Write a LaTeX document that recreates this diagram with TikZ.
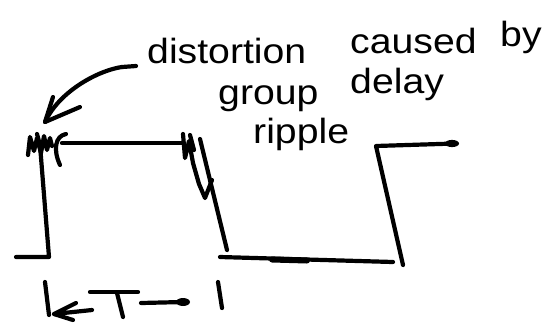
\documentclass[tikz,border=0pt]{standalone}
\usepackage{fontspec}
\setmainfont{Liberation Sans}
\begin{document}
\begin{tikzpicture}[x=1pt,y=-1pt,
  pen/.style={line width=4.2pt,line cap=round,line join=round},
  heavy/.style={line width=6pt,line cap=round},
  word/.style={anchor=base west,inner sep=0pt,font=\fontsize{35}{40}\selectfont,xscale=1.12}]
\useasboundingbox (0,0) rectangle (553,322);
% first pulse
\draw[pen] (16,257) -- (49,257) -- (40,145) -- (37,134);
\draw[pen] (62,143) -- (183,143);
\draw[pen] (200,139) -- (227,250);
% left ripple
\draw[pen] (28,155) -- (30,137) -- (34,151) -- (37,138) -- (41,153) -- (44,136) -- (47,150) -- (50,138) -- (52,146);
\draw[pen] (66,134) .. controls (55,136) and (53,150) .. (60,165);
% right ripple
\draw[pen] (183,134) -- (185,158) -- (189,141) -- (193,163) -- (199,184) -- (205,198) -- (212,180);
\draw[pen] (190,135) -- (194,150);
% low level and second pulse
\draw[pen] (220,257) -- (393,262);
\draw[heavy] (272,259.5) -- (307,260.5);
\draw[pen] (403,265) -- (376,146) -- (455,143.5);
\fill (452,143.5) ellipse (7pt and 3.6pt);
% period marker
\coordinate (lbt) at (45,282); \coordinate (lbb) at (49,315);
\draw[pen] (lbt) -- (lbb);
\coordinate (la) at (92,310); \coordinate (lt) at (54,314);
\draw[pen] (la) -- (lt) -- (76,303);
\draw[pen] (lt) -- (73,320);
\draw[pen] (90,292) -- (138,292);
\draw[pen] (117,293) -- (123,317);
\coordinate (ra) at (141,303); \coordinate (rt) at (183,302);
\draw[pen] (ra) -- (rt);
\fill (rt) ellipse (7pt and 4pt);
\draw[pen] (218,282) -- (222,308);
% annotation
\node[word] (w1) at (147,63) {distortion};
\node[word] (w2) at (350,53) {caused};
\node[word] (w3) at (500,46) {by};
\node[word] (w4) at (218,104) {group};
\node[word] (w5) at (350,93) {delay};
\node[word] (w6) at (253,143) {ripple};
\coordinate (ds) at (122,67);
\draw[pen] (ds) -- (136,66);
\coordinate (tip) at (45,122);
\draw[pen] (ds) .. controls (100,70) and (60,90) .. (tip);
\draw[pen] (53,97) -- (tip) -- (80,107);
\end{tikzpicture}
\end{document}
